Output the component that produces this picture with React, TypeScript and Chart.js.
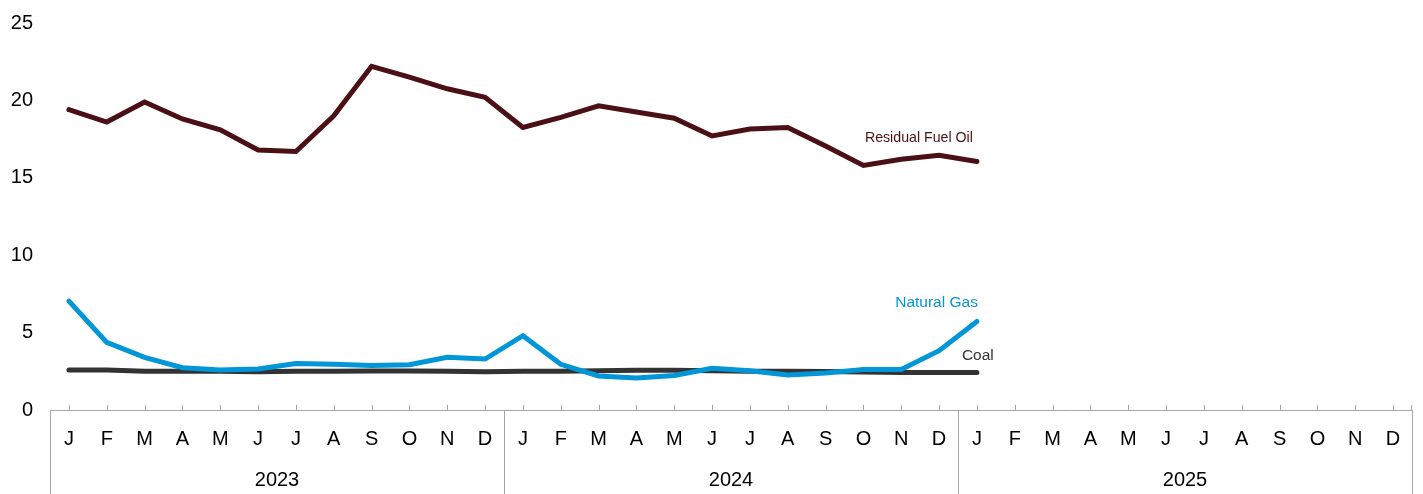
import React, { useEffect, useRef } from "react";
import { Chart, registerables } from "chart.js";

Chart.register(...registerables);

const monthLetters = ["J", "F", "M", "A", "M", "J", "J", "A", "S", "O", "N", "D"];
const years = ["2023", "2024", "2025"];
const categories: string[] = years.flatMap(() => monthLetters);

const residualFuelOil = [19.4, 18.6, 19.9, 18.8, 18.1, 16.8, 16.7, 19.0, 22.2, 21.5, 20.75, 20.2, 18.25, 18.9, 19.65, 19.25, 18.85, 17.7, 18.15, 18.25, 17.05, 15.8, 16.2, 16.45, 16.05];
const naturalGas = [7.03, 4.37, 3.4, 2.73, 2.58, 2.65, 3.0, 2.95, 2.88, 2.92, 3.4, 3.29, 4.8, 2.95, 2.2, 2.06, 2.23, 2.69, 2.54, 2.26, 2.39, 2.62, 2.62, 3.83, 5.72];
const coal = [2.58, 2.58, 2.5, 2.5, 2.5, 2.47, 2.5, 2.5, 2.52, 2.52, 2.5, 2.47, 2.5, 2.5, 2.53, 2.57, 2.57, 2.53, 2.5, 2.5, 2.48, 2.45, 2.43, 2.42, 2.42];

const yTicks = [0, 5, 10, 15, 20, 25];

const FONT = "'Liberation Sans', Arial, sans-serif";
const COLORS = { oil: "#4a1016", gas: "#0096d7", coal: "#333333", axis: "#a6a6a6" };

const seriesLabels = [
  { name: "Residual Fuel Oil", color: COLORS.oil, size: 14.2, dx: -4, dy: -23, align: "right" as CanvasTextAlign },
  { name: "Natural Gas", color: COLORS.gas, size: 15.5, dx: 1, dy: -19, align: "right" as CanvasTextAlign },
  { name: "Coal", color: COLORS.coal, size: 15.5, dx: -15, dy: -17, align: "left" as CanvasTextAlign },
];

const axisPlugin = {
  id: "customAxis",
  afterDatasetsDraw(chart: any) {
    const { ctx, chartArea, scales } = chart;
    const x = scales.x;
    const n = categories.length;
    const half = (x.getPixelForValue(1) - x.getPixelForValue(0)) / 2;
    const bottom = chartArea.bottom;
    ctx.save();
    ctx.strokeStyle = COLORS.axis;
    ctx.lineWidth = 1;
    ctx.beginPath();
    ctx.moveTo(chartArea.left, bottom + 0.5);
    ctx.lineTo(chartArea.right, bottom + 0.5);
    for (let i = 0; i < n; i++) {
      const px = Math.round(x.getPixelForValue(i)) + 0.5;
      ctx.moveTo(px, bottom - 5);
      ctx.lineTo(px, bottom);
    }
    const rx = Math.round(chartArea.right) - 0.5;
    ctx.moveTo(rx, bottom - 5);
    ctx.lineTo(rx, bottom);
    for (let y = 0; y <= years.length; y++) {
      const idx = y * 12;
      const px = Math.round(x.getPixelForValue(idx - 1 < 0 ? 0 : idx - 1) + (idx === 0 ? -half : half)) + 0.5;
      ctx.moveTo(px, bottom);
      ctx.lineTo(px, chart.height);
    }
    ctx.stroke();
    ctx.fillStyle = "#000";
    ctx.font = `20px ${FONT}`;
    ctx.textAlign = "center";
    ctx.textBaseline = "middle";
    years.forEach((yr, i) => {
      const a = x.getPixelForValue(i * 12 + 5);
      const b = x.getPixelForValue(i * 12 + 6);
      ctx.fillText(yr, (a + b) / 2, bottom + 70);
    });
    seriesLabels.forEach((s, i) => {
      const meta = chart.getDatasetMeta(i);
      const pt = meta.data[meta.data.length - 1];
      ctx.font = `${s.size}px ${FONT}`;
      ctx.fillStyle = s.color;
      ctx.textAlign = s.align;
      ctx.fillText(s.name, pt.x + s.dx, pt.y + s.dy);
    });
    ctx.restore();
  },
};

export default function App() {
  const ref = useRef<HTMLCanvasElement>(null);
  useEffect(() => {
    document.body.style.margin = "0";
    const line = (label: string, data: number[], color: string) => ({
      label,
      data,
      borderColor: color,
      backgroundColor: color,
      borderWidth: 5,
      borderCapStyle: "round" as const,
      pointRadius: 0,
      tension: 0,
    });
    const chart = new Chart(ref.current!, {
      type: "line",
      data: {
        labels: categories,
        datasets: [
          line("Residual Fuel Oil", residualFuelOil, COLORS.oil),
          line("Natural Gas", naturalGas, COLORS.gas),
          line("Coal", coal, COLORS.coal),
        ],
      },
      options: {
        animation: false,
        responsive: false,
        maintainAspectRatio: false,
        layout: { padding: { top: 23, right: 11, left: 0, bottom: 0 } },
        plugins: { legend: { display: false }, tooltip: { enabled: false } },
        scales: {
          x: {
            type: "category",
            offset: true,
            grid: { display: false },
            border: { display: false },
            ticks: {
              autoSkip: false,
              maxRotation: 0,
              color: "#000",
              font: { family: FONT, size: 20 },
              padding: 9,
            },
            afterFit: (s: any) => {
              s.height = 84;
            },
          },
          y: {
            min: 0,
            max: 25,
            afterBuildTicks: (s: any) => {
              s.ticks = yTicks.map((v) => ({ value: v }));
            },
            grid: { display: false },
            border: { display: false },
            ticks: {
              color: "#000",
              font: { family: FONT, size: 20 },
              padding: 9,
            },
            afterFit: (s: any) => {
              s.width = 50;
            },
          },
        },
      },
      plugins: [axisPlugin],
    });
    return () => chart.destroy();
  }, []);
  return (
    <div style={{ width: 1423, height: 494 }}>
      <canvas ref={ref} width={1423} height={494} style={{ display: "block" }} />
    </div>
  );
}
